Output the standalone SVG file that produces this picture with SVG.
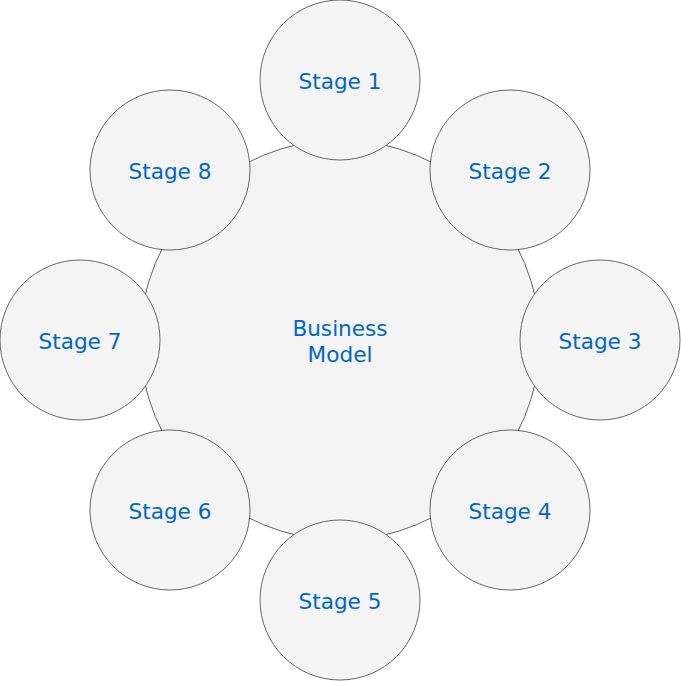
<svg xmlns="http://www.w3.org/2000/svg" width="681" height="681" viewBox="0 0 681 681">
<style>
circle{fill:#f4f4f4;stroke:#666666;stroke-width:1}
text{font-family:"DejaVu Sans",Verdana,sans-serif;font-size:21.6px;fill:#0066cc;text-anchor:middle;dominant-baseline:central}
</style>
<rect width="681" height="681" fill="#ffffff"/>
<g id="center"><circle cx="340" cy="340" r="200"/><text x="340" y="328">Business</text><text x="340" y="354">Model</text></g>
<g id="stage1"><circle cx="340" cy="80" r="80"/><text x="340" y="81">Stage 1</text></g>
<g id="stage2"><circle cx="510" cy="170" r="80"/><text x="510" y="171">Stage 2</text></g>
<g id="stage3"><circle cx="600" cy="340" r="80"/><text x="600" y="341">Stage 3</text></g>
<g id="stage4"><circle cx="510" cy="510" r="80"/><text x="510" y="511">Stage 4</text></g>
<g id="stage5"><circle cx="340" cy="600" r="80"/><text x="340" y="601">Stage 5</text></g>
<g id="stage6"><circle cx="170" cy="510" r="80"/><text x="170" y="511">Stage 6</text></g>
<g id="stage7"><circle cx="80" cy="340" r="80"/><text x="80" y="341">Stage 7</text></g>
<g id="stage8"><circle cx="170" cy="170" r="80"/><text x="170" y="171">Stage 8</text></g>
<g id="connectors"></g>
</svg>
